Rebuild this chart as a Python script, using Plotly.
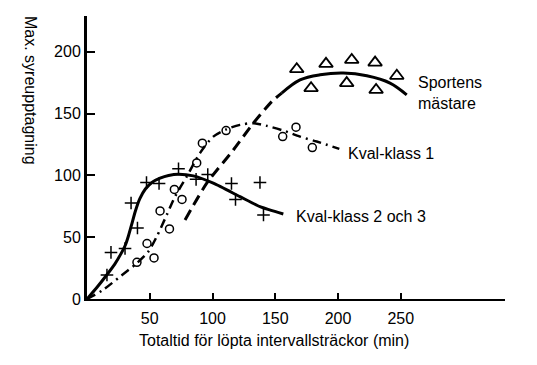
import plotly.graph_objects as go

# ---- data ----
plus_x = [15.9, 19.1, 30.3, 35.1, 40.2, 47.4, 57.4, 72.9, 86.9, 96.2, 115.1, 118.3, 137.8, 140.6]
plus_y = [19.4, 37.7, 40.9, 77.7, 57.5, 94.3, 93.5, 105.3, 96.8, 100.8, 93.5, 80.6, 94.3, 68.0]

circ_x = [39.8, 47.8, 53.4, 58.2, 65.7, 69.6, 75.7, 87.4, 91.9, 110.8, 155.9, 166.5, 179.5]
circ_y = [29.7, 44.9, 33.2, 71.3, 56.7, 88.7, 80.6, 110.1, 126.1, 136.3, 131.4, 139.0, 122.5]

tri_x = [167.1, 190.4, 210.9, 229.5, 246.8, 178.5, 206.9, 230.3]
tri_y = [186.0, 190.3, 193.5, 191.3, 180.6, 170.6, 174.7, 169.2]

k23_x = [0, 8.0, 15.7, 22.0, 27.0, 30.5, 33.0, 35.5, 38.5, 42.0, 46.5, 52.0, 58.2, 65.0, 72.7, 84.7, 100.6, 121.9, 137.8, 156.4]
k23_y = [0, 9.5, 19.4, 28.0, 36.5, 43.5, 51.0, 60.0, 71.0, 81.0, 89.0, 94.5, 97.8, 100.0, 101.0, 99.6, 93.7, 82.8, 74.7, 68.8]

k1_x = [0, 12.7, 26.3, 39.6, 48.8, 55.5, 63.5, 70.1, 79.4, 90.0, 100.6, 111.3, 121.9, 132.5, 143.2, 156.4, 169.7, 183.0, 201.0]
k1_y = [0, 7.3, 18.1, 28.9, 38.3, 50.4, 68.0, 82.8, 99.0, 118.0, 131.4, 137.4, 140.9, 142.3, 140.1, 136.3, 131.4, 127.4, 121.5]

sm_dash_x = [78.1, 95.4, 116.6, 132.5, 147.2, 155.1]
sm_dash_y = [64.0, 93.7, 120.6, 142.3, 159.8, 166.6]
sm_solid_x = [155.1, 169.7, 185.7, 204.2, 222.9, 241.4, 254.7]
sm_solid_y = [166.6, 177.3, 181.4, 182.8, 180.6, 174.7, 165.2]

x_ticks = [50, 100, 150, 200, 250]
y_ticks = [0, 50, 100, 150, 200]

x_title = "Totaltid för löpta intervallsträckor (min)"
y_title = "Max. syreupptagning"
labels = ["Sportens<br>mästare", "Kval-klass 1", "Kval-klass 2 och 3"]

FONT = "Liberation Sans, Arial, sans-serif"
BLACK = "#000000"

fig = go.Figure()

fig.add_trace(go.Scatter(x=k23_x, y=k23_y, mode="lines", line=dict(color=BLACK, width=3, shape="spline", smoothing=0.6)))
fig.add_trace(go.Scatter(x=k1_x, y=k1_y, mode="lines", line=dict(color=BLACK, width=2.5, shape="spline", smoothing=0.8, dash="9px,5px,2px,5px")))
fig.add_trace(go.Scatter(x=sm_dash_x, y=sm_dash_y, mode="lines", line=dict(color=BLACK, width=3, shape="spline", smoothing=0.6, dash="11px,6px")))
fig.add_trace(go.Scatter(x=sm_solid_x, y=sm_solid_y, mode="lines", line=dict(color=BLACK, width=3, shape="spline", smoothing=1.0)))

fig.add_trace(go.Scatter(x=plus_x, y=plus_y, mode="markers",
                         marker=dict(symbol="cross-thin", size=9, color=BLACK, line=dict(color=BLACK, width=1.5))))
fig.add_trace(go.Scatter(x=circ_x, y=circ_y, mode="markers",
                         marker=dict(symbol="circle-open", size=8, color=BLACK, line=dict(color=BLACK, width=1.5))))
fig.add_trace(go.Scatter(x=tri_x, y=tri_y, mode="markers",
                         marker=dict(symbol="triangle-up-open", size=12, color=BLACK, line=dict(color=BLACK, width=1.8))))

# page geometry (the page body has an 8px margin)
OFF = 8
W, H = 537 - OFF, 365 - OFF
PL, PR, PT, PB = 87, 505, 16, 299   # plot area in page pixels
L, T = PL - OFF, PT - OFF
R, B = (W + OFF) - PR, (H + OFF) - PB
pw, ph = PR - PL, PB - PT

def px(xp):
    return (xp - PL) / pw

def py(yp):
    return (PB - yp) / ph

fig.update_layout(
    width=W, height=H,
    margin=dict(l=L, r=R, t=T, b=B, pad=0),
    paper_bgcolor="white", plot_bgcolor="white",
    showlegend=False,
    font=dict(family=FONT, size=16, color=BLACK),
    xaxis=dict(range=[0, 333], showgrid=False, zeroline=False, showline=True, linecolor=BLACK, linewidth=2,
               tickmode="array", tickvals=x_ticks, ticktext=[str(v) for v in x_ticks],
               ticks="inside", ticklen=6, tickwidth=2, tickcolor=BLACK, ticklabelstandoff=4,
               tickfont=dict(family=FONT, size=16, color=BLACK)),
    yaxis=dict(range=[0, 229], showgrid=False, zeroline=False, showline=True, linecolor=BLACK, linewidth=3,
               tickmode="array", tickvals=y_ticks, ticktext=[str(v) for v in y_ticks],
               ticks="inside", ticklen=8, tickwidth=2, tickcolor=BLACK,
               tickfont=dict(family=FONT, size=16, color=BLACK)),
    annotations=[
        dict(xref="paper", yref="paper", x=px(274), y=py(340), text=x_title, showarrow=False,
             xanchor="center", yanchor="middle", font=dict(size=16)),
        dict(xref="paper", yref="paper", x=px(30), y=py(90), text=y_title, showarrow=False, textangle=90,
             xanchor="center", yanchor="middle", font=dict(size=16)),
        dict(xref="paper", yref="paper", x=px(416), y=py(93), text=labels[0], showarrow=False,
             xanchor="left", yanchor="middle", align="left", font=dict(size=16)),
        dict(xref="paper", yref="paper", x=px(346), y=py(153), text=labels[1], showarrow=False,
             xanchor="left", yanchor="middle", font=dict(size=16)),
        dict(xref="paper", yref="paper", x=px(294), y=py(217), text=labels[2], showarrow=False,
             xanchor="left", yanchor="middle", font=dict(size=16)),
    ],
)

fig.write_html("out.html")
